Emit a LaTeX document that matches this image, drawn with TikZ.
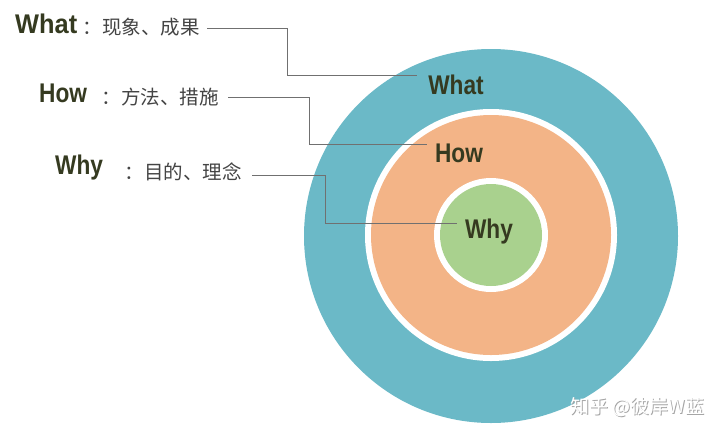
\documentclass[tikz,border=0pt]{standalone}
\usepackage{fontspec}
\setmainfont{Liberation Sans}
\newfontfamily\cjk{Noto Sans CJK SC}
\newfontfamily\boldlab[FakeStretch=0.84]{Liberation Sans}
\newfontfamily\boldwide[FakeStretch=0.94]{Liberation Sans}
\definecolor{teal}{HTML}{6BB9C7}
\definecolor{peach}{HTML}{F3B487}
\definecolor{leaf}{HTML}{A9D18E}
\definecolor{ink}{HTML}{353A20}
\definecolor{cjkgray}{HTML}{444444}
\definecolor{wire}{HTML}{707070}
\begin{document}
\begin{tikzpicture}[x=1pt,y=-1pt,
  biglab/.style={inner sep=0pt, text=ink, font=\boldlab\bfseries\fontsize{27}{27}\selectfont},
  cjklab/.style={inner sep=0pt, text=cjkgray, font=\cjk\fontsize{19.5}{19.5}\selectfont, anchor=east},
  wireline/.style={draw=wire, line width=1pt}]
\useasboundingbox (0,0) rectangle (720,437);
\fill[white] (0,0) rectangle (720,437);
% rings
\fill[teal] (491,236) circle[radius=187];
\fill[white] (491,235) circle[radius=126];
\fill[peach] (491,235) circle[radius=120];
\fill[white] (491,235) circle[radius=57];
\fill[leaf] (491,235) circle[radius=51];
% circle labels
\node[biglab] (cwhat) at (456,85) {What};
\node[biglab] (chow) at (459,153) {How};
\node[biglab] (cwhy) at (489,232) {Why};
% left labels
\node[biglab, font=\boldwide\bfseries\fontsize{27}{27}\selectfont, anchor=west] (lwhat) at (15,24) {What};
\node[cjklab] (twhat) at (200,27) {：现象、成果};
\node[biglab, anchor=west] (lhow) at (39,93) {How};
\node[cjklab] (thow) at (219,97) {：方法、措施};
\node[biglab, anchor=west] (lwhy) at (55,168) {Why};
\node[cjklab] (twhy) at (242,172) {：目的、理念};
% connectors
\coordinate (k1) at (287,28);
\coordinate (k2) at (309,97);
\coordinate (k3) at (325,175);
\draw[wireline] (twhat.east |- k1) ++(7,0) -- (k1) |- (417,75);
\draw[wireline] (thow.east |- k2) ++(9,0) -- (k2) |- (427,144);
\draw[wireline] (twhy.east |- k3) ++(10,0) -- (k3) |- (457,223);
% watermark
\node[inner sep=0pt, text=gray!70, font=\cjk\fontsize{19}{19}\selectfont, anchor=west] (wmshadow) at (571.5,408.5) {知乎 @彼岸W蓝};
\node[inner sep=0pt, text=white, font=\cjk\fontsize{19}{19}\selectfont, anchor=west] (wm) at (570,407) {知乎 @彼岸W蓝};
\end{tikzpicture}
\end{document}
